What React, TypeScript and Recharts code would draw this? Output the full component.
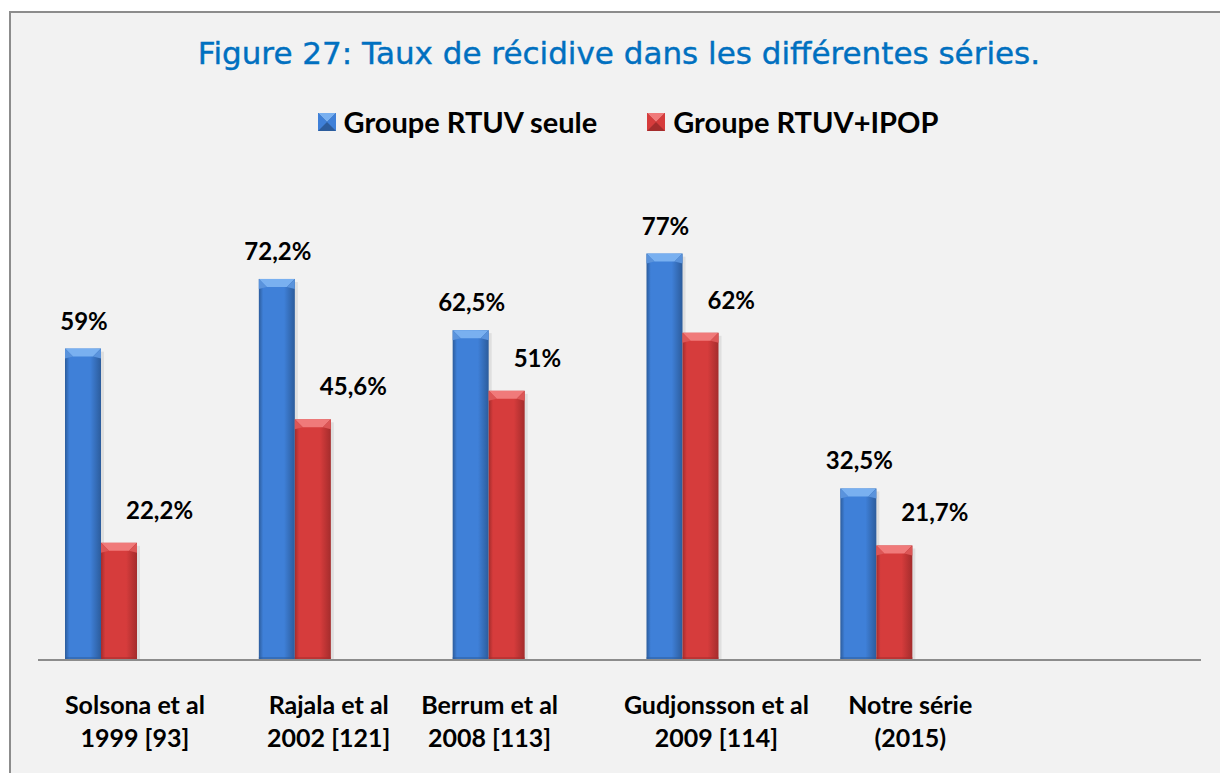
import { Bar, BarChart, LabelList, Legend, XAxis, YAxis } from "recharts";

const categories = [
  "Solsona et al\n1999 [93]",
  "Rajala et al\n2002 [121]",
  "Berrum et al\n2008 [113]",
  "Gudjonsson et al\n2009 [114]",
  "Notre série\n(2015)",
  "",
];
const rtuvSeule = [59, 72.2, 62.5, 77, 32.5, null];
const rtuvIpop = [22.2, 45.6, 51, 62, 21.7, null];
const seriesNames = ["Groupe RTUV seule", "Groupe RTUV+IPOP"];

const data = categories.map((name, i) => ({ name, rtuv: rtuvSeule[i], ipop: rtuvIpop[i] }));

const SHIFT = -34;
const LABEL_FONT = "Lato, 'Open Sans', sans-serif";

const pal: Record<string, { edge: string; mid: string; top: string; topEdge: string }> = {
  blue: { edge: "#2c5c9c", mid: "#3f80d8", top: "#79b0f0", topEdge: "#5a93dc" },
  red: { edge: "#a42c2c", mid: "#d63c3c", top: "#f07a7a", topEdge: "#dc5656" },
};

function bevelBar(color: string) {
  return (props: any) => {
    const { x, y, width, height } = props;
    if (!height || height <= 0) return null;
    const c = pal[color];
    const bx = x + SHIFT;
    const b = Math.min(8, height / 2);
    return (
      <g>
        <rect x={bx + 3} y={y + 3} width={width} height={height - 3} fill="rgba(0,0,0,0.08)" />
        <rect x={bx} y={y} width={width} height={height} fill={`url(#grad-${color})`} />
        <polygon points={`${bx},${y} ${bx + width},${y} ${bx + width - b},${y + b} ${bx + b},${y + b}`} fill={c.top} />
        <polygon points={`${bx},${y} ${bx + b},${y + b} ${bx},${y + b + 2}`} fill={c.topEdge} />
        <polygon points={`${bx + width},${y} ${bx + width - b},${y + b} ${bx + width},${y + b + 2}`} fill={c.topEdge} />
        <rect x={bx} y={y + height - 3} width={width} height={3} fill={c.edge} opacity={0.5} />
      </g>
    );
  };
}

const fmt = (v: number) => `${String(v).replace(".", ",")}%`;

function blueLabel(props: any) {
  const { x, y, width, value } = props;
  if (value == null) return null;
  return (
    <text x={x + SHIFT + width / 2 + 1} y={y - 19} textAnchor="middle" fontFamily={LABEL_FONT} fontWeight={700} fontSize={24} fill="#000">
      {fmt(value)}
    </text>
  );
}

function redLabel(props: any) {
  const { x, y, width, value } = props;
  if (value == null) return null;
  return (
    <text x={x + SHIFT + width / 2 + 7} y={y - 24} textAnchor="start" fontFamily={LABEL_FONT} fontWeight={700} fontSize={24} fill="#000">
      {fmt(value)}
    </text>
  );
}

const tickNudge: Record<string, number> = { "Berrum et al\n2008 [113]": -33 };

function CategoryTick(props: any) {
  const { x, y, payload } = props;
  const lines = String(payload.value).split("\n");
  const dx = tickNudge[payload.value] ?? 0;
  return (
    <text x={x + dx} y={y} textAnchor="middle" fontFamily={LABEL_FONT} fontWeight={700} fontSize={25} fill="#000">
      {lines.map((l, i) => (
        <tspan key={i} x={x + dx} dy={i === 0 ? 46 : 33}>
          {l}
        </tspan>
      ))}
    </text>
  );
}

function LegendBox() {
  const items = [
    { name: seriesNames[0], color: "blue" },
    { name: seriesNames[1], color: "red" },
  ];
  return (
    <div style={{ display: "flex", justifyContent: "center", gap: 50, paddingLeft: 36 }}>
      {items.map((it) => (
        <div key={it.name} style={{ display: "flex", alignItems: "center" }}>
          <svg width={18} height={18} style={{ marginRight: 8 }}>
            <rect x={0} y={0} width={18} height={18} fill={pal[it.color].edge} />
            <polygon points="0,0 18,0 9,9" fill={pal[it.color].top} />
            <polygon points="0,0 9,9 0,18" fill={pal[it.color].mid} />
            <polygon points="18,0 9,9 18,18" fill={pal[it.color].mid} />
          </svg>
          <span style={{ fontFamily: LABEL_FONT, fontWeight: 700, fontSize: 29, color: "#000" }}>{it.name}</span>
        </div>
      ))}
    </div>
  );
}

export default function App() {
  return (
    <div style={{ position: "absolute", left: 0, top: 0, width: 1220, height: 773, background: "#fff", overflow: "hidden" }}>
      <div style={{ position: "absolute", left: 9, top: 11, width: 1240, height: 800, border: "2px solid #8c8c8c", background: "#f2f2f2" }} />
      <div style={{ position: "absolute", left: 0, top: 35, width: 1238, textAlign: "center", fontFamily: "'DejaVu Sans', Verdana, sans-serif", fontSize: 31, color: "#0070c0", WebkitTextStroke: "0.4px #0070c0" }}>
        Figure 27: Taux de récidive dans les différentes séries.
      </div>
      <div style={{ position: "absolute", left: 0, top: 0 }}>
        <BarChart width={1220} height={773} data={data} margin={{ top: 150, right: 19, left: 38, bottom: 33 }} barGap={0} barSize={36}>
          <defs>
            {Object.keys(pal).map((k) => (
              <linearGradient key={k} id={`grad-${k}`} x1="0" y1="0" x2="1" y2="0">
                <stop offset="0%" stopColor={pal[k].edge} />
                <stop offset="12%" stopColor={pal[k].mid} />
                <stop offset="70%" stopColor={pal[k].mid} />
                <stop offset="100%" stopColor={pal[k].edge} />
              </linearGradient>
            ))}
          </defs>
          <XAxis dataKey="name" height={80} tickLine={false} axisLine={{ stroke: "#8c8c8c", strokeWidth: 2 }} tick={<CategoryTick />} interval={0} />
          <YAxis hide domain={[0, 90]} />
          <Legend verticalAlign="top" content={<LegendBox />} wrapperStyle={{ top: 104, left: 0, width: 1220 }} />
          <Bar dataKey="rtuv" name={seriesNames[0]} shape={bevelBar("blue")} isAnimationActive={false}>
            <LabelList dataKey="rtuv" content={blueLabel} />
          </Bar>
          <Bar dataKey="ipop" name={seriesNames[1]} shape={bevelBar("red")} isAnimationActive={false}>
            <LabelList dataKey="ipop" content={redLabel} />
          </Bar>
        </BarChart>
      </div>
    </div>
  );
}
